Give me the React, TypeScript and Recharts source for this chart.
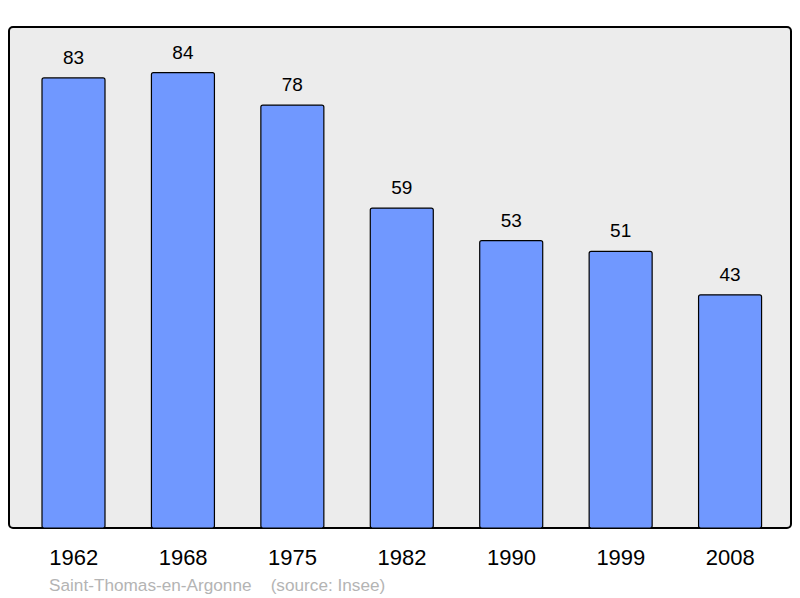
import React from "react";
import { BarChart, Bar, XAxis, YAxis, CartesianGrid, LabelList, ReferenceArea } from "recharts";

const years = ["1962", "1968", "1975", "1982", "1990", "1999", "2008"];
const population = [83, 84, 78, 59, 53, 51, 43];
const footer = "Saint-Thomas-en-Argonne\u00a0\u00a0\u00a0\u00a0(source: Insee)";
const yMax = 92.4;

const data = years.map((y, i) => ({ year: y, value: population[i] }));

export default function App() {
  return (
    <div style={{ position: "absolute", left: 0, top: 0, width: 800, height: 598, background: "#fff" }}>
      <BarChart
        width={800}
        height={598}
        data={data}
        margin={{ top: 27, right: 9, bottom: 0, left: 9 }}
      >
        <CartesianGrid fill="#ececec" horizontal={false} vertical={false} />
        <XAxis
          dataKey="year"
          height={70}
          tickLine={false}
          tickSize={0}
          tickMargin={21}
          axisLine={false}
          tick={{ fill: "#000", fontSize: 22, fontFamily: "Liberation Sans, Arial, sans-serif" }}
          padding={{ left: 10, right: 6 }}
          interval={0}
        />
        <XAxis xAxisId="frame" type="number" hide />
        <YAxis domain={[0, yMax]} hide allowDataOverflow />
        <ReferenceArea
          xAxisId="frame"
          y1={0}
          y2={yMax}
          fill="none"
          stroke="#000"
          strokeWidth={2}
          radius={4}
          ifOverflow="visible"
        />
        <Bar
          dataKey="value"
          fill="#7098ff"
          stroke="#000"
          strokeWidth={1.2}
          barSize={63}
          radius={2}
          isAnimationActive={false}
        >
          <LabelList
            dataKey="value"
            position="top"
            offset={14}
            fill="#000"
            fontSize={19}
            fontFamily="Liberation Sans, Arial, sans-serif"
          />
        </Bar>
      </BarChart>
      <div
        style={{
          position: "absolute",
          left: 49,
          top: 575,
          fontSize: 17.2,
          color: "#b4b4b4",
          fontFamily: "Liberation Sans, Arial, sans-serif",
          whiteSpace: "pre",
        }}
      >
        {footer}
      </div>
    </div>
  );
}
